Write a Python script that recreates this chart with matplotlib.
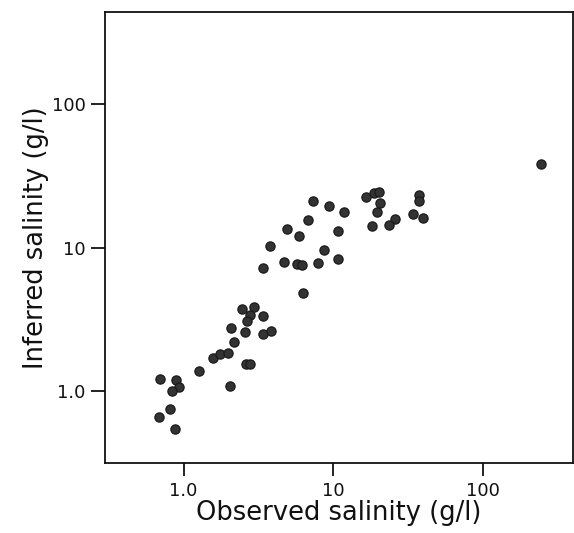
import matplotlib
matplotlib.use("Agg")
import matplotlib.pyplot as plt
from matplotlib.ticker import FixedLocator, NullLocator

observed = [244, 16.5, 18.7, 20.4, 20.6, 19.5, 37.5, 37.5, 34.4, 40.1, 25.9, 23.7, 18.1,
            7.36, 9.42, 11.8, 6.75, 4.91, 5.90, 10.7, 3.80, 8.68, 10.8, 4.71, 5.70, 6.21,
            7.91, 3.41, 6.31, 2.45, 2.94, 3.38, 2.78, 2.64, 2.08, 2.58, 3.41, 3.82, 2.17,
            1.58, 1.75, 1.99, 2.60, 2.78, 1.26, 2.05, 0.70, 0.888, 0.93, 0.84, 0.806, 0.68, 0.879]
inferred = [38.2, 22.7, 24.2, 24.4, 20.4, 17.8, 23.3, 21.2, 17.1, 16.2, 15.9, 14.4, 14.2,
            21.3, 19.5, 17.7, 15.6, 13.4, 12.1, 13.1, 10.3, 9.59, 8.30, 7.98, 7.66, 7.57,
            7.78, 7.21, 4.81, 3.72, 3.88, 3.35, 3.39, 3.10, 2.75, 2.58, 2.50, 2.62, 2.19,
            1.71, 1.80, 1.85, 1.55, 1.55, 1.38, 1.08, 1.21, 1.19, 1.07, 1.0, 0.745, 0.66, 0.54]

tick_values = [1, 10, 100]
tick_labels = ["1.0", "10", "100"]

fig = plt.figure(figsize=(5.74, 5.33), dpi=100)
ax = fig.add_axes([105 / 574, 1 - 462.7 / 533, 468 / 574, (462.7 - 12) / 533])
ax.scatter(observed, inferred, s=44, color="#333333", edgecolors="#1a1a1a",
           linewidths=0.9, zorder=3)
ax.set_xscale("log")
ax.set_yscale("log")
ax.set_xlim(0.298, 402)
ax.set_ylim(0.316, 441)

ax.xaxis.set_major_locator(FixedLocator(tick_values))
ax.yaxis.set_major_locator(FixedLocator(tick_values))
ax.xaxis.set_minor_locator(NullLocator())
ax.yaxis.set_minor_locator(NullLocator())
ax.set_xticklabels(tick_labels)
ax.set_yticklabels(tick_labels)

font = "DejaVu Sans"
for lab in ax.get_xticklabels() + ax.get_yticklabels():
    lab.set_fontfamily(font)
    lab.set_fontsize(13)
ax.tick_params(axis="x", direction="out", length=9, width=1.3, pad=5, colors="#111111")
ax.tick_params(axis="y", direction="out", length=10, width=1.3, pad=4, colors="#111111")
for sp in ax.spines.values():
    sp.set_linewidth(1.3)
    sp.set_color("#111111")

ax.set_xlabel("Observed salinity (g/l)", fontsize=18.5, family=font,
              color="#111111", labelpad=0)
ax.set_ylabel("Inferred salinity (g/l)", fontsize=18.5, family=font,
              color="#111111", labelpad=2)

fig.savefig("out.png", dpi=100)
